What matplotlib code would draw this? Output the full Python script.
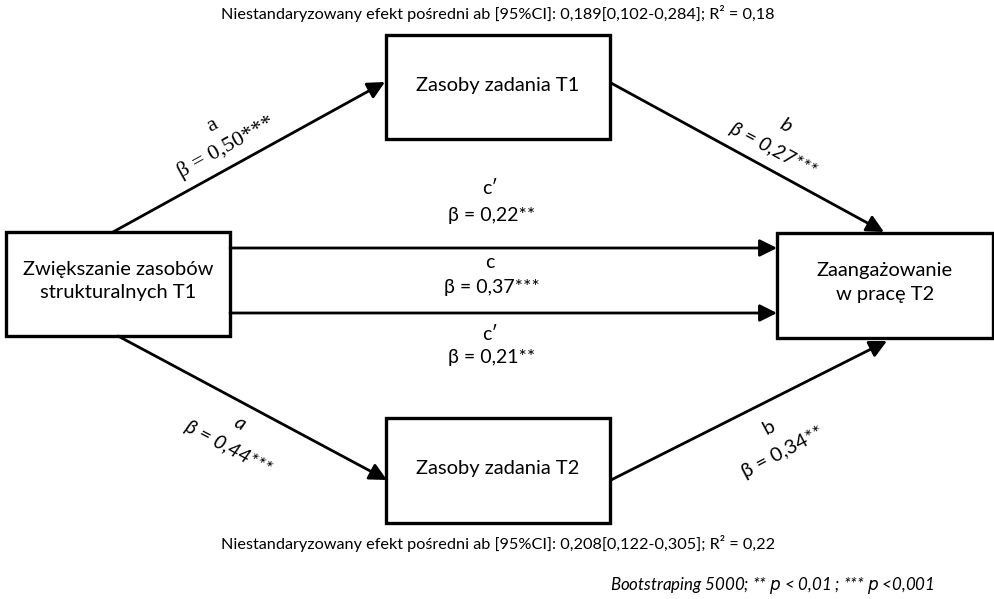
import matplotlib
matplotlib.use("Agg")
import matplotlib.pyplot as plt
from matplotlib.patches import Rectangle

# --- data (text content of the path diagram) ---
box_names = ["Zwiększanie zasobów\nstrukturalnych T1", "Zasoby zadania T1",
             "Zasoby zadania T2", "Zaangażowanie\nw pracę T2"]
path_names = ["a", "b", "a", "b", "c′", "c", "c′"]
path_betas = ["0,50", "0,27", "0,44", "0,34", "0,22", "0,37", "0,21"]
path_stars = ["***", "***", "***", "**", "**", "***", "**"]
note_top = "Niestandaryzowany efekt pośredni ab [95%CI]: 0,189[0,102-0,284]; R² = 0,18"
note_bottom = "Niestandaryzowany efekt pośredni ab [95%CI]: 0,208[0,122-0,305]; R² = 0,22"
footnote = "Bootstraping 5000; ** $p$ < 0,01 ; *** $p$ <0,001"

# --- layout (pixel space of the 995x599 canvas) ---
boxes = [(6, 232, 224, 104), (386, 35, 224, 104), (386, 418, 224, 105), (777, 233, 216, 105)]
arrows = [((113, 232), (385, 82)), ((611, 83), (884, 232)),
          ((118, 336), (387, 480)), ((611, 480), (887, 341)),
          ((230, 248), (777, 248)), ((230, 313), (777, 313))]

fig = plt.figure(figsize=(9.95, 5.99), dpi=100)
ax = fig.add_axes([0, 0, 1, 1])
ax.set_xlim(0, 995)
ax.set_ylim(599, 0)
ax.axis("off")

font = "Lato"

for (x, y, w, h), name in zip(boxes, box_names):
    ax.add_patch(Rectangle((x, y), w, h, fill=False, lw=2.4, ec="black"))
    ax.text(x + w / 2, y + h / 2 + (-3 if "\n" in name else -2), name, ha="center", va="center",
            fontsize=14.5, family=font, linespacing=1.45)

for (p0, p1) in arrows:
    ax.annotate("", xy=p1, xytext=p0,
                arrowprops=dict(arrowstyle="-|>,head_length=0.8,head_width=0.4", lw=2,
                                color="black", shrinkA=0, shrinkB=0, mutation_scale=13))

# slanted labels: (name pos, beta pos, rotation, style, family)
slanted = [((212, 126), (226, 147), 29, "normal", "Liberation Serif"),
           ((786, 126), (773, 150), -28, "italic", font),
           ((240, 424), (228, 448), -28, "italic", font),
           ((769, 428), (783, 452), 28, "normal", font)]
for i, (pn, pb, rot, st, fam) in enumerate(slanted):
    fs = 16 if fam != font else 14.5
    ax.text(*pn, path_names[i], rotation=rot, ha="center", va="center", rotation_mode="anchor",
            fontsize=fs, family=fam, style=st)
    ax.text(*pb, f"β = {path_betas[i]}{path_stars[i]}", rotation=rot, ha="center", va="center",
            rotation_mode="anchor", fontsize=fs, family=fam, style=st)

# horizontal path labels
mid_y = [(189, 215), (262, 287), (334, 357)]
for j, (yn, yb) in enumerate(mid_y):
    i = j + 4
    ax.text(490, yn, path_names[i], ha="center", va="center", fontsize=14, family=font)
    ax.text(492, yb, f"β = {path_betas[i]}{path_stars[i]}", ha="center", va="center",
            fontsize=14, family=font)

ax.text(498, 14, note_top, ha="center", va="center", fontsize=11.7, family=font)
ax.text(498, 543, note_bottom, ha="center", va="center", fontsize=11.7, family=font)
ax.text(935, 586, footnote, ha="right", va="center", fontsize=12.2, family=font, style="italic")

fig.savefig("out.png", dpi=100)
